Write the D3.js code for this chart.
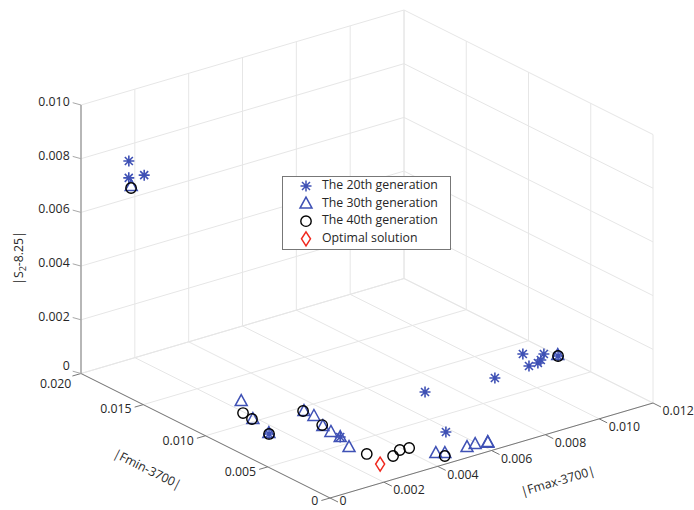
<!DOCTYPE html>
<html>
<head>
<meta charset="utf-8">
<script src="https://cdn.jsdelivr.net/npm/d3@7"></script>
<style>
body { margin: 0; background: #fff; }
text { font-family: "Open Sans", sans-serif; font-size: 12.3px; fill: #262626; }
</style>
</head>
<body>
<div id="chart"></div>
<script>
// tick values of the three axes
var fmaxTicks = [0, 0.002, 0.004, 0.006, 0.008, 0.010, 0.012];
var fminTicks = [0, 0.005, 0.010, 0.015, 0.020];
var s2Ticks = [0, 0.002, 0.004, 0.006, 0.008, 0.010];

// points as [ |Fmax-3700|, |Fmin-3700|, |S2-8.25| ]
var gen20 = [
    [0.00076, 0.0178, 0.0082], [0.00096, 0.0170, 0.0078], [0.00085, 0.0180, 0.0075],
    [0.00157, 0.00829, 0], [0.00309, 0.00586, 0], [0.00580, 0.00323, 0],
    [0.00718, 0.00789, 0], [0.00947, 0.00723, 0],
    [0.01062, 0.00747, 0.0005], [0.01111, 0.00684, 0.0005], [0.01020, 0.00607, 0.0005],
    [0.01055, 0.00611, 0.0005], [0.01076, 0.00633, 0.0005], [0.01135, 0.00622, 0.0005]
];
var gen30 = [
    [0.00071, 0.0175, 0.00735],
    [0.00246, 0.01245, 0], [0.00189, 0.01028, 0], [0.00161, 0.00839, 0],
    [0.00346, 0.00957, 0], [0.00346, 0.00877, 0], [0.00320, 0.00749, 0],
    [0.00311, 0.00665, 0], [0.00309, 0.00586, 0], [0.00283, 0.00459, 0],
    [0.00458, 0.00140, 0], [0.00479, 0.00113, 0], [0.00559, 0.00108, 0],
    [0.00592, 0.00114, 0], [0.00631, 0.00097, 0], [0.00628, 0.00090, 0],
    [0.01139, 0.00633, 0.0005]
];
var gen40 = [
    [0.00068, 0.01745, 0.0073],
    [0.00194, 0.01118, 0], [0.00187, 0.01031, 0], [0.00157, 0.00829, 0],
    [0.00344, 0.00960, 0], [0.00323, 0.00761, 0], [0.00292, 0.00336, 0],
    [0.00344, 0.00237, 0], [0.00388, 0.00278, 0], [0.00419, 0.00270, 0],
    [0.00465, 0.00083, 0], [0.01135, 0.00622, 0.0005]
];
var optimal = [[0.00276, 0.00194, 0]];

var seriesNames = ["The 20th generation", "The 30th generation", "The 40th generation", "Optimal solution"];

var svgWidth = 694;
var svgHeight = 510;

var svg = d3.select("#chart")
    .append("svg")
    .attr("width", svgWidth)
    .attr("height", svgHeight);

// each axis maps its value range onto 0..1 along its edge of the box
var fmaxScale = d3.scaleLinear().domain([0, 0.012]).range([0, 1]);
var fminScale = d3.scaleLinear().domain([0, 0.020]).range([0, 1]);
var s2Scale = d3.scaleLinear().domain([0, 0.010]).range([0, 1]);

// screen corner for (0,0,0) and the screen vectors of each full axis
var origin = [330, 498];
var vFmax = [323, -95];
var vFmin = [-249, -124.5];
var vS2 = [0, -268.5];

function project(fmax, fmin, s2) {
    var a = fmaxScale(fmax), b = fminScale(fmin), c = s2Scale(s2);
    return [origin[0] + a * vFmax[0] + b * vFmin[0] + c * vS2[0],
            origin[1] + a * vFmax[1] + b * vFmin[1] + c * vS2[1]];
}

var fmaxEnd = fmaxScale.domain()[1];
var fminEnd = fminScale.domain()[1];
var s2End = s2Scale.domain()[1];

// grid lines on the floor and the two back walls
var grid = [];
fminTicks.forEach(function (f) {
    grid.push([project(0, f, 0), project(fmaxEnd, f, 0)]);
    grid.push([project(fmaxEnd, f, 0), project(fmaxEnd, f, s2End)]);
});
fmaxTicks.forEach(function (m) {
    grid.push([project(m, 0, 0), project(m, fminEnd, 0)]);
    grid.push([project(m, fminEnd, 0), project(m, fminEnd, s2End)]);
});
s2Ticks.forEach(function (z) {
    grid.push([project(0, fminEnd, z), project(fmaxEnd, fminEnd, z)]);
    grid.push([project(fmaxEnd, 0, z), project(fmaxEnd, fminEnd, z)]);
});

svg.append("g").selectAll("line")
    .data(grid)
    .enter()
    .append("line")
    .attr("x1", d => d[0][0]).attr("y1", d => d[0][1])
    .attr("x2", d => d[1][0]).attr("y2", d => d[1][1])
    .attr("stroke", "#e6e6e6")
    .attr("stroke-width", 1);

// axis lines
function axisLine(p, q, color, w) {
    svg.append("line")
        .attr("x1", p[0]).attr("y1", p[1])
        .attr("x2", q[0]).attr("y2", q[1])
        .attr("stroke", color)
        .attr("stroke-width", w);
}
axisLine(project(0, 0, 0), project(0, fminEnd, 0), "#777", 1);
axisLine(project(0, 0, 0), project(fmaxEnd, 0, 0), "#777", 1);
axisLine(project(0, fminEnd, 0), project(0, fminEnd, s2End), "#a8a8a8", 1.6);

var fmt = function (v) { return v === 0 ? "0" : d3.format(".3f")(v); };

// Fmin ticks
var fminG = svg.append("g");
fminTicks.forEach(function (f) {
    var p = project(0, f, 0);
    var q = [p[0] - 8.6, p[1] + 2.5];
    fminG.append("line").attr("x1", p[0]).attr("y1", p[1]).attr("x2", q[0]).attr("y2", q[1])
        .attr("stroke", "#777");
    var nudge = f === fminEnd ? [2, 6] : f === 0 ? [0, -1.5] : [0, 0];
    fminG.append("text")
        .attr("x", q[0] - 3 + nudge[0])
        .attr("y", q[1] + 3 + nudge[1])
        .attr("text-anchor", "end")
        .attr("dominant-baseline", "middle")
        .text(fmt(f));
});

// Fmax ticks
var fmaxG = svg.append("g");
fmaxTicks.forEach(function (m) {
    var p = project(m, 0, 0);
    var q = [p[0] + 8, p[1] + 4];
    fmaxG.append("line").attr("x1", p[0]).attr("y1", p[1]).attr("x2", q[0]).attr("y2", q[1])
        .attr("stroke", "#777");
    fmaxG.append("text")
        .attr("x", q[0] + 1.5)
        .attr("y", q[1] + (m === 0 ? 0 : 5))
        .attr("dominant-baseline", "middle")
        .text(fmt(m));
});

// S2 ticks
var s2G = svg.append("g");
s2Ticks.forEach(function (z) {
    var p = project(0, fminEnd, z);
    var q = [p[0] - 8.3, p[1] - 2.3];
    s2G.append("line").attr("x1", p[0]).attr("y1", p[1]).attr("x2", q[0]).attr("y2", q[1])
        .attr("stroke", "#a8a8a8");
    s2G.append("text")
        .attr("x", q[0] - 3)
        .attr("y", q[1] - (z === 0 ? 4 : 0))
        .attr("text-anchor", "end")
        .attr("dominant-baseline", "middle")
        .text(fmt(z));
});

// axis titles
var fminAngle = Math.atan2(-vFmin[1], -vFmin[0]) * 180 / Math.PI;
var fmaxAngle = Math.atan2(vFmax[1], vFmax[0]) * 180 / Math.PI;

svg.append("text")
    .attr("transform", `translate(147, 470) rotate(${fminAngle})`)
    .attr("text-anchor", "middle")
    .attr("dominant-baseline", "middle")
    .text("|Fmin-3700|");

svg.append("text")
    .attr("transform", `translate(558, 482) rotate(${fmaxAngle})`)
    .attr("text-anchor", "middle")
    .attr("dominant-baseline", "middle")
    .text("|Fmax-3700|");

var s2Title = svg.append("text")
    .attr("transform", "translate(23, 258) rotate(-90)")
    .attr("text-anchor", "middle");
s2Title.append("tspan").text("|S");
s2Title.append("tspan").attr("font-size", "9px").attr("dy", 3).text("2");
s2Title.append("tspan").attr("dy", -3).text("-8.25|");

// marker shapes
var blue = "#3f51b5";
var red = "#f0281e";
var starPath = "M-5.5,0H5.5M0,-5.5V5.5M-4,-4L4,4M-4,4L4,-4";
var triPath = "M0,-6.5L6,4.5L-6,4.5Z";
var diamondPath = "M0,-7L4.5,0L0,7L-4.5,0Z";

function drawSeries(data, kind) {
    var g = svg.append("g");
    var sel = g.selectAll("path")
        .data(data)
        .enter();
    if (kind === "circle") {
        sel.append("circle")
            .attr("cx", d => project(d[0], d[1], d[2])[0])
            .attr("cy", d => project(d[0], d[1], d[2])[1])
            .attr("r", 5.2)
            .attr("fill", "none")
            .attr("stroke", "#000")
            .attr("stroke-width", 1.4);
    } else {
        var shape = kind === "star" ? starPath : kind === "tri" ? triPath : diamondPath;
        var color = kind === "diamond" ? red : blue;
        sel.append("path")
            .attr("transform", d => `translate(${project(d[0], d[1], d[2])})`)
            .attr("d", shape)
            .attr("fill", "none")
            .attr("stroke", color)
            .attr("stroke-width", kind === "star" ? 1.6 : 1.5);
    }
}

drawSeries(gen20, "star");
drawSeries(gen30, "tri");
drawSeries(gen40, "circle");
drawSeries(optimal, "diamond");

// legend
var legend = svg.append("g");
legend.append("rect")
    .attr("x", 282.5).attr("y", 176.5)
    .attr("width", 168).attr("height", 73)
    .attr("fill", "#fff")
    .attr("stroke", "#777")
    .attr("stroke-width", 1);

var kinds = ["star", "tri", "circle", "diamond"];
kinds.forEach(function (k, i) {
    var y = 186 + i * 17.6;
    if (k === "circle") {
        legend.append("circle").attr("cx", 306).attr("cy", y).attr("r", 5.2)
            .attr("fill", "none").attr("stroke", "#000").attr("stroke-width", 1.4);
    } else {
        legend.append("path")
            .attr("transform", `translate(306, ${y})`)
            .attr("d", k === "star" ? starPath : k === "tri" ? triPath : diamondPath)
            .attr("fill", "none")
            .attr("stroke", k === "diamond" ? red : blue)
            .attr("stroke-width", 1.5);
    }
    legend.append("text")
        .attr("x", 322)
        .attr("y", y)
        .attr("dominant-baseline", "middle")
        .text(seriesNames[i]);
});
</script>
</body>
</html>
